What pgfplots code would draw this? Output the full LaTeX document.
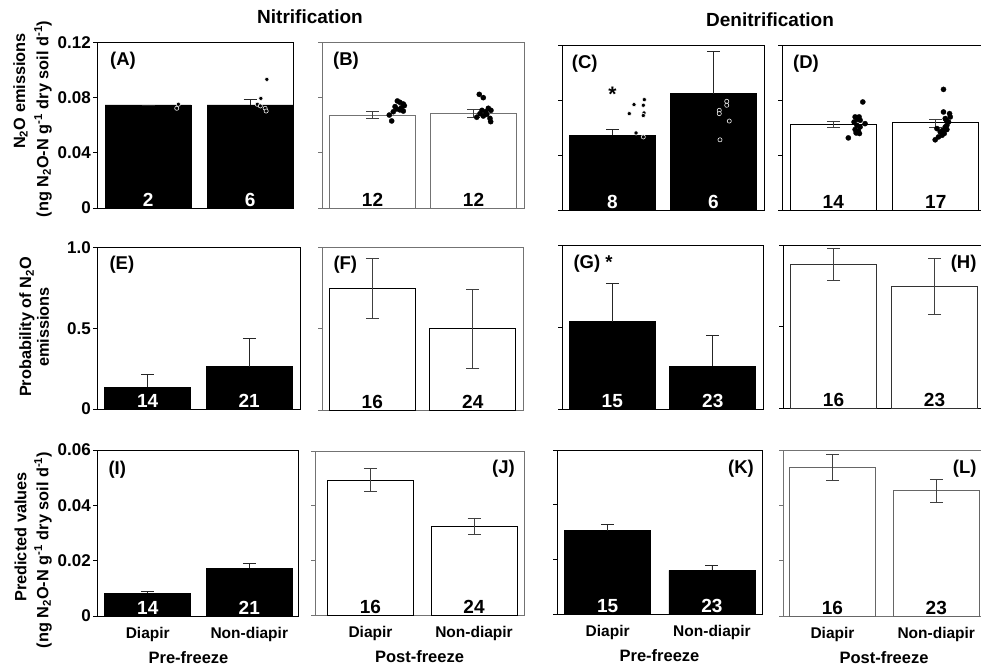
\documentclass[border=0pt]{standalone}
\usepackage{fontspec}
\setmainfont{Liberation Sans}
\usepackage{pgfplots}
\pgfplotsset{compat=1.18}

\newcommand\tickfont{\fontsize{17}{17}\selectfont\bfseries}
\newcommand\labfont{\fontsize{15.5}{18}\selectfont\bfseries}
\newcommand\rowfont{\fontsize{16.3}{18}\selectfont\bfseries}
\newcommand\xlabfont{\fontsize{16.5}{18}\selectfont\bfseries}
\newcommand\numfont{\fontsize{19}{19}\selectfont\bfseries}
\newcommand\panelfont{\fontsize{18.5}{19}\selectfont\bfseries}
\newcommand\titlefont{\fontsize{19}{20}\selectfont\bfseries}

\tikzset{
  nw/.style={anchor=south, inner sep=1.5pt, font=\numfont, text=white},
  nb/.style={anchor=south, inner sep=1.5pt, font=\numfont, text=black},
}

\pgfplotsset{
  panel/.style={
    scale only axis, anchor=south west, clip=false,
    axis line style={line width=0.9pt},
    tick align=outside, ytick pos=left, xtick=\empty,
    major tick length=4pt,
    every tick/.style={line width=0.9pt, black},
    scaled y ticks=false,
    yticklabel style={font=\tickfont, inner sep=2pt},
    /pgf/number format/assume math mode=true,
    yticklabels=\empty,
  },
  rowA/.style={ymin=0, ymax=0.12, ytick={0,0.04,0.08,0.12}},
  rowB/.style={ymin=0, ymax=1, ytick={0,0.5,1}},
  rowC/.style={ymin=0, ymax=0.06, ytick={0,0.02,0.04,0.06},
    xtick={1,2}, xticklabels={Diapir,Non-diapir},
    xtick style={draw=none},
    xticklabel style={font=\labfont, yshift=-4pt},
    xlabel style={font=\xlabfont, yshift=-3pt}},
  greyframe/.style={axis line style={line width=0.9pt, black!55},
    every tick/.style={line width=0.9pt, black!55}},
  blackbar/.style={ybar, bar width=86pt, bar shift=0pt, fill=black, draw=black,
    line width=0.9pt,
    /pgfplots/error bars/y dir=plus, /pgfplots/error bars/y explicit,
    /pgfplots/error bars/error bar style={line width=0.9pt, black!85},
    /pgfplots/error bars/error mark options={rotate=90, line width=0.9pt, black!85, mark size=6.5pt}},
  whitebar/.style={ybar, bar width=86pt, bar shift=0pt, fill=white, draw=black!75,
    line width=0.9pt,
    /pgfplots/error bars/y dir=both, /pgfplots/error bars/y explicit,
    /pgfplots/error bars/error bar style={line width=0.9pt, black!75},
    /pgfplots/error bars/error mark options={rotate=90, line width=0.9pt, black!75, mark size=6.5pt}},
  dots/.style={only marks, mark=*, mark size=2.1pt,
    mark options={fill=black, draw=white, line width=0.55pt}},
  bigdots/.style={only marks, mark=*, mark size=2.6pt,
    mark options={fill=black, draw=black, line width=0.3pt}},
}

\begin{document}
\begin{tikzpicture}
\useasboundingbox (0pt,0pt) rectangle (981pt,-668pt);

% ---------------- Row 1: N2O emissions ----------------
% (A) nitrification, pre-freeze
\begin{axis}[panel, rowA, at={(97pt,-208pt)}, width=196pt, height=165.5pt,
  xmin=0.5, xmax=2.42, yticklabels={0,0.04,0.08,0.12}]
\addplot[blackbar] coordinates {(1,0.0747) += (0,0) (2,0.0747) += (0,0.0041)};
\addplot[dots] coordinates {(1.297,0.0752) (1.281,0.0723)
  (2.164,0.0933) (2.105,0.0795) (2.070,0.0752) (2.100,0.0740) (2.147,0.0723) (2.157,0.0703)};
\node[nw] at (axis cs:1,0) {2};
\node[nw] at (axis cs:2,0) {6};
\end{axis}

% (B) nitrification, post-freeze
\begin{axis}[panel, rowA, greyframe, at={(322pt,-208pt)}, width=202pt, height=165.5pt,
  xmin=0.5, xmax=2.5]
\addplot[whitebar, draw=black!55] coordinates {(1,0.0674) += (0,0.0029) -= (0,0.0024)
  (2,0.0684) += (0,0.0032) -= (0,0.0029)};
\addplot[bigdots] coordinates {
  (1.246,0.0776) (1.272,0.0766) (1.305,0.0754) (1.315,0.0742) (1.223,0.0735) (1.285,0.0727)
  (1.240,0.0718) (1.272,0.0711) (1.305,0.0703) (1.206,0.0698) (1.166,0.0674) (1.190,0.0631)
  (2.057,0.0824) (2.097,0.0800) (2.147,0.0723) (2.173,0.0708) (2.084,0.0708) (2.121,0.0698)
  (2.064,0.0684) (2.131,0.0679) (2.097,0.0667) (2.032,0.0658) (2.163,0.0650) (2.170,0.0626)};
\node[nb] at (axis cs:1,0) {12};
\node[nb] at (axis cs:2,0) {12};
\end{axis}

% (C) denitrification, pre-freeze
\begin{axis}[panel, rowA, at={(562pt,-210pt)}, width=202pt, height=164.5pt,
  xmin=0.5, xmax=2.5]
\addplot[blackbar] coordinates {(1,0.0545) += (0,0.0042) (2,0.0847) += (0,0.0312)};
\addplot[dots] coordinates {
  (1.315,0.0805) (1.213,0.0769) (1.305,0.0764) (1.166,0.0703) (1.312,0.0708) (1.305,0.0689)
  (1.233,0.0562) (1.305,0.0533)
  (2.131,0.0793) (2.131,0.0764) (2.057,0.0727) (2.057,0.0703) (2.156,0.0649) (2.064,0.0512)};
\node[anchor=north, inner sep=0pt, font=\fontsize{21}{21}\selectfont\bfseries] at (axis cs:1,0.0895) {*};
\node[nw] at (axis cs:1,0) {8};
\node[nw] at (axis cs:2,0) {6};
\end{axis}

% (D) denitrification, post-freeze
\begin{axis}[panel, rowA, at={(782pt,-210pt)}, width=203pt, height=164.5pt,
  xmin=0.5, xmax=2.48]
\addplot[whitebar, draw=black] coordinates {(1,0.0624) += (0,0.0023) -= (0,0.0023)
  (2,0.0636) += (0,0.0024) -= (0,0.0035)};
\addplot[bigdots] coordinates {
  (1.288,0.0788) (1.213,0.0679) (1.252,0.0679) (1.262,0.0655) (1.235,0.0662) (1.203,0.0642)
  (1.310,0.0630) (1.230,0.0618) (1.262,0.0606) (1.213,0.0587) (1.245,0.0577) (1.223,0.0562)
  (1.255,0.0558) (1.147,0.0526)
  (2.075,0.0880) (2.075,0.0715) (2.134,0.0703) (2.141,0.0679) (2.092,0.0667) (2.102,0.0655)
  (2.124,0.0642) (2.108,0.0618) (2.092,0.0606) (2.108,0.0587) (2.069,0.0582) (2.011,0.0594)
  (2.043,0.0570) (2.082,0.0558) (2.060,0.0545) (2.026,0.0533) (1.994,0.0512)};
\node[nb] at (axis cs:1,0) {14};
\node[nb] at (axis cs:2,0) {17};
\end{axis}

% ---------------- Row 2: probability of emissions ----------------
\begin{axis}[panel, rowB, at={(97pt,-409pt)}, width=203pt, height=161.5pt,
  xmin=0.5, xmax=2.5, yticklabels={0,0.5,1.0}]
\addplot[blackbar] coordinates {(1,0.134) += (0,0.081) (2,0.262) += (0,0.172)};
\node[nw] at (axis cs:1,0) {14};
\node[nw] at (axis cs:2,0) {21};
\end{axis}

\begin{axis}[panel, rowB, greyframe, at={(322pt,-410pt)}, width=201pt, height=162.5pt,
  xmin=0.5, xmax=2.5]
\addplot[whitebar, draw=black] coordinates {(1,0.750) += (0,0.185) -= (0,0.185)
  (2,0.501) += (0,0.243) -= (0,0.244)};
\node[nb] at (axis cs:1,0) {16};
\node[nb] at (axis cs:2,0) {24};
\end{axis}

\begin{axis}[panel, rowB, at={(562pt,-409pt)}, width=201pt, height=163.5pt,
  xmin=0.5, xmax=2.5]
\addplot[blackbar] coordinates {(1,0.533) += (0,0.237) (2,0.263) += (0,0.184)};
\node[nw] at (axis cs:1,0) {15};
\node[nw] at (axis cs:2,0) {23};
\end{axis}

\begin{axis}[panel, rowB, at={(783pt,-408pt)}, width=202pt, height=163pt,
  xmin=0.5, xmax=2.5]
\addplot[whitebar, draw=black!80] coordinates {(1,0.883) += (0,0.097) -= (0,0.098)
  (2,0.744) += (0,0.174) -= (0,0.173)};
\node[nb] at (axis cs:1,0) {16};
\node[nb] at (axis cs:2,0) {23};
\end{axis}

% ---------------- Row 3: predicted values ----------------
\begin{axis}[panel, rowC, at={(97pt,-616pt)}, width=201pt, height=166pt,
  xmin=0.5, xmax=2.48, yticklabels={0,0.02,0.04,0.06},
  xlabel={Pre-freeze}, xlabel style={xshift=-9pt}]
\addplot[blackbar] coordinates {(1,0.0082) += (0,0.0008) (2,0.0172) += (0,0.0018)};
\node[nw] at (axis cs:1,0) {14};
\node[nw] at (axis cs:2,0) {21};
\end{axis}

\begin{axis}[panel, rowC, greyframe, at={(315pt,-615pt)}, width=209pt, height=164pt,
  xmin=0.464, xmax=2.483, xlabel={Post-freeze}]
\addplot[whitebar, draw=black] coordinates {(1,0.0494) += (0,0.0043) -= (0,0.0042)
  (2,0.0323) += (0,0.0032) -= (0,0.0030)};
\node[nb] at (axis cs:1,0) {16};
\node[nb] at (axis cs:2,0) {24};
\end{axis}

\begin{axis}[panel, rowC, at={(557pt,-614pt)}, width=205pt, height=164pt,
  xmin=0.514, xmax=2.48, xlabel={Pre-freeze}]
\addplot[blackbar] coordinates {(1,0.0305) += (0,0.0024) (2,0.0160) += (0,0.0018)};
\node[nw] at (axis cs:1,0) {15};
\node[nw] at (axis cs:2,0) {23};
\end{axis}

\begin{axis}[panel, rowC, greyframe, at={(783pt,-616pt)}, width=202pt, height=166pt,
  xmin=0.523, xmax=2.47, xlabel={Post-freeze}]
\addplot[whitebar, draw=black!60] coordinates {(1,0.0536) += (0,0.0048) -= (0,0.0047)
  (2,0.0453) += (0,0.0042) -= (0,0.0043)};
\node[nb] at (axis cs:1,0) {16};
\node[nb] at (axis cs:2,0) {23};
\end{axis}

% ---------------- column titles ----------------
\node[font=\titlefont] at (310pt,-17pt) {Nitrification};
\node[font=\titlefont] at (770pt,-20pt) {Denitrification};

% ---------------- row labels ----------------
\begin{scope}[every node/.style={rotate=90, font=\rowfont, inner sep=0pt}]
\node at (20.5pt,-91pt) {N\textsubscript{2}O emissions};
\node at (43pt,-119pt) {(ng N\textsubscript{2}O-N g\textsuperscript{-1} dry soil d\textsuperscript{-1})};
\node at (27pt,-327pt) {Probability of N\textsubscript{2}O};
\node at (43pt,-327pt) {emissions};
\node at (20.5pt,-537pt) {Predicted values};
\node at (43pt,-550pt) {(ng N\textsubscript{2}O-N g\textsuperscript{-1} dry soil d\textsuperscript{-1})};
\end{scope}

% ---------------- panel letters ----------------
\begin{scope}[every node/.style={font=\panelfont, inner sep=0pt}]
\node[anchor=west] at (110pt,-61pt) {(A)};
\node[anchor=west] at (333pt,-61pt) {(B)};
\node[anchor=west] at (571.7pt,-63.3pt) {(C)};
\node[anchor=west] at (793pt,-63.3pt) {(D)};
\node[anchor=west] at (109.3pt,-264.3pt) {(E)};
\node[anchor=west] at (333.3pt,-265pt) {(F)};
\node[anchor=west] at (573.3pt,-263.3pt) {(G) *};
\node[anchor=east] at (976.7pt,-263.3pt) {(H)};
\node[anchor=west] at (108.3pt,-469.3pt) {(I)};
\node[anchor=east] at (515pt,-469pt) {(J)};
\node[anchor=east] at (754pt,-469pt) {(K)};
\node[anchor=east] at (976.7pt,-469pt) {(L)};
\end{scope}
\end{tikzpicture}
\end{document}
